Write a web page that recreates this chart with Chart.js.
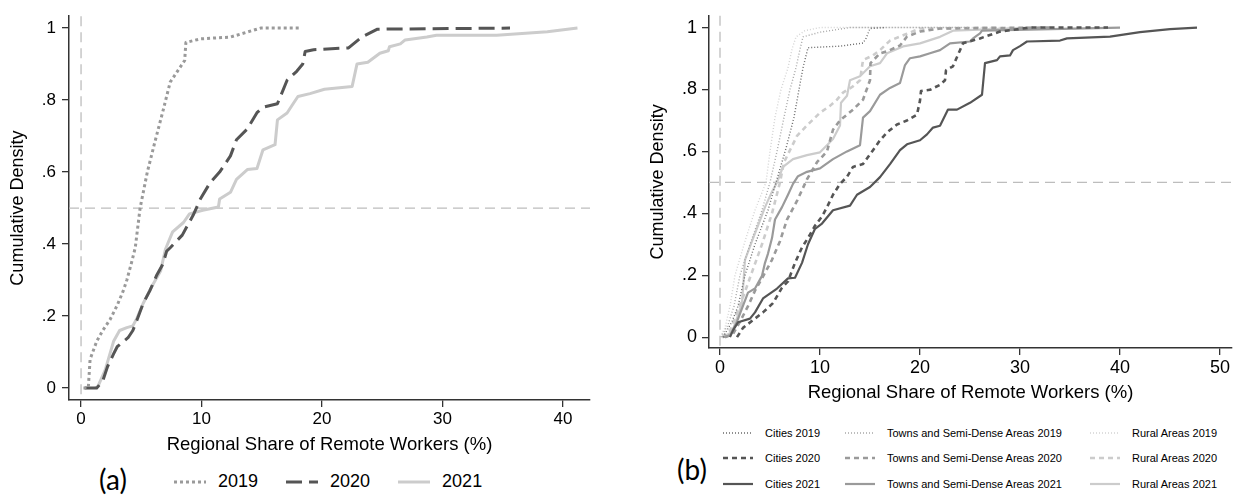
<!DOCTYPE html>
<html>
<head>
<meta charset="utf-8">
<script src="https://cdn.jsdelivr.net/npm/chart.js@4.4.1/dist/chart.umd.min.js"></script>
<style>
    body { margin: 0; background: #fff; width: 1237px; height: 495px; overflow: hidden; position: relative;
           font-family: "Liberation Sans", Arial, sans-serif; color: #000; }
    #wrapA { position: absolute; left: 0; top: 0; width: 615px; height: 460px; }
    #wrapB { position: absolute; left: 620px; top: 0; width: 617px; height: 410px; }
    .tag { position: absolute; font-family: Lato, "Open Sans", sans-serif; font-size: 28px; line-height: 28px;
           transform: translate(-50%, -50%); }
    #legA { position: absolute; left: 174px; top: 471px; display: flex; align-items: center; font-size: 18px; }
    #legA .it { display: flex; align-items: center; margin-right: 28px; }
    #legA svg { margin-right: 12px; }
    #legB { position: absolute; left: 723px; top: 420px; display: grid; grid-template-columns: 122px 245px auto;
            grid-template-rows: repeat(3, 25.5px); grid-auto-flow: column; font-size: 11px; }
    #legB .it { display: flex; align-items: center; }
    #legB svg { margin-right: 12px; }
</style>
</head>
<body>
<div id="wrapA"><canvas id="chartA" width="615" height="460"></canvas></div>
<div id="wrapB"><canvas id="chartB" width="617" height="410"></canvas></div>
<div class="tag" style="left:113px;top:479px">(a)</div>
<div class="tag" style="left:692px;top:469px">(b)</div>
<div id="legA"></div>
<div id="legB"></div>
<script>
// panel (a): [share %, cumulative density]
var a2019 = [[0.2,0],[0.6,0],[0.75,0.08],[1.3,0.13],[1.8,0.16],[2.4,0.19],[3.0,0.23],[3.5,0.27],[3.8,0.30],[4.2,0.35],[4.5,0.39],[4.9,0.50],[5.5,0.60],[6.1,0.68],[6.8,0.77],[7.4,0.85],[8.2,0.89],[8.6,0.91],[8.7,0.96],[9.9,0.97],[12.4,0.975],[14.9,1.0],[18.2,1.0]];
var a2020 = [[0.3,0],[1.3,0],[1.8,0.02],[2.2,0.06],[2.7,0.095],[3.0,0.115],[3.9,0.14],[4.3,0.16],[4.65,0.19],[5.15,0.235],[5.7,0.27],[6.3,0.315],[6.8,0.345],[7.1,0.38],[7.4,0.39],[8.4,0.425],[9.3,0.48],[9.9,0.525],[10.7,0.57],[11.5,0.60],[12.4,0.645],[12.9,0.69],[13.8,0.72],[14.6,0.765],[15.1,0.78],[16.3,0.79],[17.1,0.855],[17.9,0.88],[18.4,0.90],[18.6,0.935],[19.3,0.94],[22.2,0.945],[23.3,0.975],[24.6,0.997],[35.6,1.0]];
var a2021 = [[1.2,0],[1.4,0.005],[2.0,0.05],[2.7,0.13],[3.2,0.16],[3.8,0.168],[4.3,0.173],[4.65,0.195],[5.15,0.235],[6.0,0.29],[6.6,0.325],[7.0,0.385],[7.3,0.41],[7.6,0.434],[8.5,0.46],[9.0,0.484],[10.1,0.494],[11.4,0.503],[11.5,0.525],[12.4,0.544],[12.9,0.58],[13.8,0.607],[14.6,0.61],[15.1,0.662],[16.1,0.676],[16.3,0.745],[17.1,0.764],[17.6,0.79],[18.0,0.81],[19.0,0.818],[20.2,0.83],[22.5,0.838],[22.9,0.90],[23.8,0.905],[24.8,0.93],[25.5,0.937],[25.6,0.948],[26.5,0.956],[26.9,0.967],[28.7,0.975],[29.5,0.98],[34.5,0.98],[38.7,0.99],[41.2,1.0]];

// panel (b)
var cities2019 = [[0.3,0],[1.2,0.05],[1.8,0.1],[2.5,0.2],[3.5,0.3],[4.8,0.41],[5.6,0.5],[6.6,0.61],[7.4,0.71],[7.9,0.8],[8.3,0.87],[8.8,0.935],[12,0.94],[14.3,0.95],[14.6,0.965],[15,0.997],[16.5,1]];
var cities2020 = [[1.7,0],[2.3,0.03],[3.3,0.055],[4.3,0.08],[5.3,0.11],[6.2,0.16],[6.8,0.18],[7.5,0.24],[8.2,0.29],[8.8,0.32],[9.5,0.36],[10.2,0.39],[10.7,0.42],[11.3,0.46],[12.0,0.495],[12.7,0.518],[13.3,0.55],[14.3,0.559],[15.3,0.604],[16.0,0.636],[16.7,0.661],[17.7,0.687],[18.7,0.70],[19.7,0.719],[20.0,0.764],[20.1,0.795],[21.0,0.799],[22.0,0.815],[22.5,0.83],[22.6,0.862],[23.3,0.875],[24.0,0.927],[24.3,0.949],[26.0,0.965],[28.0,0.987],[31.0,1.0],[38.8,1.0]];
var cities2021 = [[1.0,0],[1.3,0.022],[1.8,0.048],[3.0,0.06],[3.5,0.08],[4.3,0.125],[5.7,0.157],[6.8,0.19],[7.5,0.192],[8.2,0.24],[8.8,0.30],[9.5,0.35],[10.2,0.367],[11.3,0.41],[13.0,0.425],[13.7,0.46],[15.0,0.485],[16.0,0.517],[17.0,0.559],[18.0,0.604],[18.7,0.623],[20.0,0.636],[20.7,0.655],[21.3,0.677],[22.0,0.683],[22.8,0.735],[23.7,0.735],[25.0,0.757],[26.2,0.783],[26.5,0.885],[27.7,0.895],[28.0,0.907],[29.0,0.91],[29.3,0.927],[30.0,0.94],[30.7,0.955],[34.0,0.958],[34.7,0.965],[39.0,0.971],[42.0,0.985],[45.0,0.995],[47.7,1.0]];
var towns2019 = [[0.1,0],[0.8,0.04],[1.4,0.1],[2.0,0.2],[3.0,0.3],[4.2,0.41],[5.0,0.5],[5.7,0.6],[6.4,0.71],[7.0,0.8],[7.6,0.87],[8.0,0.93],[8.3,0.97],[10,0.985],[13,1],[25,1]];
var towns2020 = [[0.5,0],[1.3,0.01],[2.0,0.05],[2.8,0.1],[3.5,0.15],[4.2,0.19],[5.2,0.25],[6.0,0.31],[6.7,0.38],[7.7,0.44],[8.7,0.51],[9.7,0.565],[10.7,0.60],[11.3,0.67],[12.0,0.70],[13.3,0.735],[14.3,0.767],[15.0,0.83],[15.05,0.885],[16.0,0.917],[16.7,0.923],[18.0,0.942],[18.7,0.971],[20.0,0.987],[22.0,0.997],[33.0,1.0]];
var towns2021 = [[0.3,0],[1.0,0.005],[1.7,0.05],[2.2,0.093],[2.8,0.144],[3.5,0.157],[4.2,0.198],[4.5,0.24],[4.8,0.27],[5.2,0.32],[5.5,0.38],[6.2,0.42],[6.8,0.46],[7.3,0.495],[7.8,0.52],[8.7,0.534],[10.0,0.545],[11.3,0.575],[12.7,0.6],[14.0,0.62],[14.3,0.709],[15.0,0.73],[16.0,0.783],[17.0,0.805],[18.0,0.821],[18.5,0.879],[19.0,0.901],[20.0,0.907],[21.0,0.917],[22.0,0.927],[23.0,0.949],[25.0,0.955],[25.3,0.965],[26.0,0.981],[26.2,0.99],[40.0,1.0]];
var rural2019 = [[0,0],[0.5,0.03],[1.0,0.1],[1.5,0.2],[2.5,0.31],[3.5,0.41],[4.6,0.5],[5.0,0.6],[5.5,0.71],[6.1,0.8],[6.8,0.87],[7.2,0.93],[7.6,0.97],[8.5,0.99],[10,1],[30,1]];
var rural2020 = [[0.2,0],[1.0,0.02],[2.2,0.12],[3.2,0.21],[4.2,0.30],[5.2,0.40],[6.0,0.50],[6.4,0.565],[7.7,0.65],[8.7,0.684],[10.0,0.725],[11.0,0.747],[11.7,0.767],[12.3,0.79],[13.3,0.81],[14.0,0.83],[14.3,0.895],[15.3,0.91],[16.0,0.927],[17.0,0.958],[18.7,0.98],[20.0,0.997],[28.0,1.0]];
var rural2021 = [[0.2,0],[1.2,0.016],[1.8,0.07],[2.2,0.11],[2.5,0.25],[3.2,0.31],[3.8,0.36],[4.5,0.42],[5.2,0.47],[5.7,0.50],[6.3,0.55],[7.3,0.575],[8.7,0.588],[10.0,0.597],[10.7,0.62],[11.3,0.64],[12.0,0.684],[12.1,0.757],[12.7,0.78],[13.0,0.83],[14.0,0.843],[15.0,0.875],[16.0,0.885],[16.7,0.917],[18.3,0.939],[20.0,0.949],[22.0,0.97],[23.3,0.99],[31.3,1.0]];

var ticksXA = [0, 10, 20, 30, 40];
var ticksXB = [0, 10, 20, 30, 40, 50];
var ticksY  = [0, 0.2, 0.4, 0.6, 0.8, 1];
var refX = [0];
var refY = [0.5];

var FONT = '"Liberation Sans", Arial, sans-serif';

function pts(arr) {
    return arr.map(function (p) { return { x: p[0], y: p[1] }; });
}

function fmtY(v) {
    if (v === 0) return '0';
    if (v === 1) return '1';
    return '.' + Math.round(v * 10);
}

var refLines = {
    id: 'refLines',
    beforeDatasetsDraw: function (chart) {
        var ctx = chart.ctx, area = chart.chartArea;
        var xs = chart.scales.x, ys = chart.scales.y;
        ctx.save();
        ctx.strokeStyle = '#bdbdbd';
        ctx.lineWidth = 1.3;
        ctx.setLineDash([10, 6]);
        refX.forEach(function (v) {
            var px = xs.getPixelForValue(v);
            ctx.beginPath(); ctx.moveTo(px, area.top); ctx.lineTo(px, area.bottom); ctx.stroke();
        });
        refY.forEach(function (v) {
            var py = ys.getPixelForValue(v);
            ctx.beginPath(); ctx.moveTo(area.left, py); ctx.lineTo(area.right, py); ctx.stroke();
        });
        ctx.restore();
    }
};

function line(label, data, color, width, dash) {
    return {
        label: label, data: pts(data), borderColor: color, borderWidth: width,
        borderDash: dash || [], pointRadius: 0, tension: 0, fill: false,
        borderCapStyle: 'butt', borderJoinStyle: 'round'
    };
}

function makeOptions(o) {
    return {
        responsive: false,
        animation: false,
        devicePixelRatio: 1,
        layout: { padding: { left: 0, top: 12, right: o.padRight, bottom: 0 } },
        plugins: { legend: { display: false }, tooltip: { enabled: false } },
        scales: {
            x: {
                type: 'linear', min: o.xmin, max: o.xmax,
                afterBuildTicks: function (s) { s.ticks = o.xticks.map(function (v) { return { value: v }; }); },
                afterFit: function (s) { s.height = o.xh; },
                ticks: { color: '#000', padding: 2, font: { family: FONT, size: o.tickSize },
                         maxRotation: 0, autoSkip: false, callback: function (v) { return String(v); } },
                grid: { drawOnChartArea: false, drawTicks: true, tickLength: 7, color: '#333', lineWidth: 1.3 },
                border: { display: true, color: '#333', width: 1.5 },
                title: { display: true, text: 'Regional Share of Remote Workers (%)', color: '#000',
                         font: { family: FONT, size: 18.5 }, padding: { top: 0, bottom: o.xtPad } }
            },
            y: {
                type: 'linear', min: o.ymin, max: o.ymax,
                afterBuildTicks: function (s) { s.ticks = ticksY.map(function (v) { return { value: v }; }); },
                afterFit: function (s) { s.width = o.yw; },
                ticks: { color: '#000', padding: o.ytickPad, font: { family: FONT, size: o.tickSize },
                         autoSkip: false, callback: function (v) { return fmtY(v); } },
                grid: { drawOnChartArea: false, drawTicks: true, tickLength: 7, color: '#333', lineWidth: 1.3 },
                border: { display: true, color: '#333', width: 1.5 },
                title: { display: true, text: 'Cumulative Density', color: '#000',
                         font: { family: FONT, size: 18 }, padding: { top: o.ytPad, bottom: 0 } }
            }
        }
    };
}

function buildLegend(el, datasets, w) {
    datasets.forEach(function (d) {
        var it = document.createElement('div');
        it.className = 'it';
        var dash = d.borderDash.length ? ' stroke-dasharray="' + d.borderDash.join(' ') + '"' : '';
        it.innerHTML = '<svg width="' + w + '" height="10"><line x1="0" y1="5" x2="' + w + '" y2="5" stroke="' +
            d.borderColor + '" stroke-width="' + d.borderWidth + '"' + dash + '/></svg><span>' + d.label + '</span>';
        el.appendChild(it);
    });
}

var DARK = '#555555', MID = '#9a9a9a', LIGHT = '#cccccc';

var setA = [
    line('2019', a2019, MID, 3, [3, 3]),
    line('2020', a2020, DARK, 3, [16, 7]),
    line('2021', a2021, LIGHT, 3)
];

var setB = [
    line('Cities 2019', cities2019, '#6a6a6a', 1.4, [1, 2]),
    line('Cities 2020', cities2020, DARK, 2.6, [5, 4]),
    line('Cities 2021', cities2021, DARK, 2.2),
    line('Towns and Semi-Dense Areas 2019', towns2019, '#a8a8a8', 1.4, [1, 2]),
    line('Towns and Semi-Dense Areas 2020', towns2020, MID, 2.6, [5, 4]),
    line('Towns and Semi-Dense Areas 2021', towns2021, MID, 2.2),
    line('Rural Areas 2019', rural2019, '#d4d4d4', 1.4, [1, 2]),
    line('Rural Areas 2020', rural2020, LIGHT, 2.6, [5, 4]),
    line('Rural Areas 2021', rural2021, LIGHT, 2.2)
];

new Chart(document.getElementById('chartA'), {
    type: 'line',
    data: { datasets: setA },
    options: makeOptions({ xmin: -1, xmax: 42.24, ymin: -0.033, ymax: 1.033, xticks: ticksXA,
                           padRight: 25, xh: 60, yw: 69, tickSize: 17, xtPad: 4, ytPad: 7, ytickPad: 6 }),
    plugins: [refLines]
});

new Chart(document.getElementById('chartB'), {
    type: 'line',
    data: { datasets: setB },
    options: makeOptions({ xmin: -1.1, xmax: 51.2, ymin: -0.035, ymax: 1.038, xticks: ticksXB,
                           padRight: 5, xh: 62, yw: 89, tickSize: 18, xtPad: 6, ytPad: 27, ytickPad: 5 }),
    plugins: [refLines]
});

buildLegend(document.getElementById('legA'), setA, 32);
buildLegend(document.getElementById('legB'), setB, 30);
</script>
</body>
</html>
